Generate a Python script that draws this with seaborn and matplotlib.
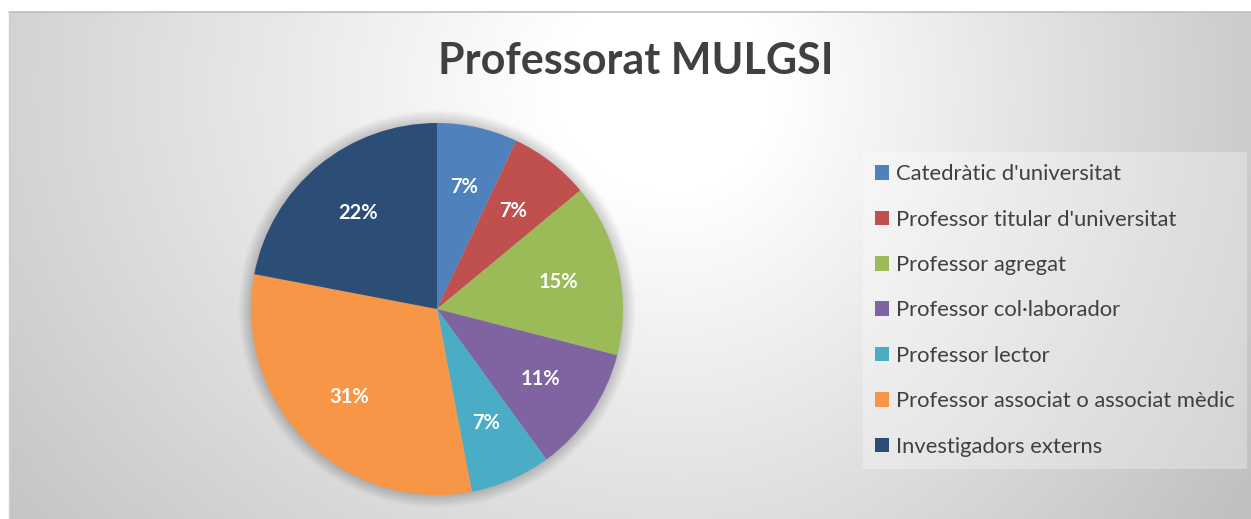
import numpy as np
import matplotlib
matplotlib.use("Agg")
import matplotlib.pyplot as plt
import seaborn as sns
from matplotlib.patches import Circle

sns.set_style("white")
plt.rcParams['font.family'] = ['Lato', 'DejaVu Sans']

# Data
categories = [
    "Catedràtic d'universitat",
    "Professor titular d'universitat",
    "Professor agregat",
    "Professor col·laborador",
    "Professor lector",
    "Professor associat o associat mèdic",
    "Investigadors externs",
]
shares = [7, 7, 15, 11, 7, 31, 22]
colors = sns.color_palette(["#4F81BD", "#C0504D", "#9BBB59", "#8064A2",
                            "#4BACC6", "#F79646", "#2C4D75"])

W, H = 1251, 519
fig = plt.figure(figsize=(W / 100, H / 100), dpi=100)
fig.patch.set_facecolor("white")

# Background with soft radial gradient
bg = fig.add_axes([9 / W, 0, 1 - 9 / W, 1 - 12 / H])
bw, bh = W - 9, H - 12
xx, yy = np.meshgrid(np.arange(bw) + 9, np.arange(bh) + 12)
dx = xx - 680.0
dx = np.where(dx < 0, dx * 0.82, dx * 1.1)
d = np.sqrt(dx ** 2 + (yy - 90.0) ** 2)
v = np.clip(1.04 - 0.000385 * d, 0.75, 1.0)
bg.imshow(np.dstack([v, v, v]), aspect="auto", extent=(0, bw, bh, 0))
bg.set_xlim(0, bw)
bg.set_ylim(bh, 0)
bg.axis("off")
fig.add_artist(plt.Line2D([9 / W, 1], [1 - 12 / H, 1 - 12 / H], color="#BFBFBF", lw=1.2))
fig.add_artist(plt.Line2D([9 / W, 9 / W], [0, 1 - 12 / H], color="#D0D0D0", lw=1))

# Pie
cx, cy, r = 437, 309, 186
ax = fig.add_axes([(cx - r) / W, (H - cy - r) / H, 2 * r / W, 2 * r / H])
for k in range(16):
    ax.add_patch(Circle((0, 0), 1.0 + 0.0045 * k, color="black", alpha=0.012,
                        lw=0, zorder=0, clip_on=False))
wedges, texts, autotexts = ax.pie(
    shares, colors=colors, startangle=90, counterclock=False,
    autopct=lambda p: f"{p:.0f}%", pctdistance=0.67,
    wedgeprops=dict(linewidth=0),
    textprops=dict(color="white", fontsize=14.5, fontweight="bold"),
)
for w in wedges:
    w.set_zorder(2)
for t in autotexts:
    t.set_zorder(3)
ax.set_xlim(-1, 1)
ax.set_ylim(-1, 1)
ax.set_aspect("equal")
ax.axis("off")

# Title
fig.text(636 / W, 1 - 61 / H, "Professorat MULGSI", ha="center", va="center",
         fontsize=31, fontweight="bold", color="#404040")

# Legend
leg = fig.legend(
    wedges, categories, loc="upper left",
    bbox_to_anchor=(863 / W, 1 - 152 / H), borderaxespad=0,
    fontsize=15.8, handlelength=0.64, handleheight=0.64, handletextpad=0.3,
    labelspacing=1.16, borderpad=0.55, frameon=True, fancybox=False,
    labelcolor="#404040",
)
leg.get_frame().set_facecolor("white")
leg.get_frame().set_alpha(0.3)
leg.get_frame().set_edgecolor("none")

fig.savefig("out.png", dpi=100)
